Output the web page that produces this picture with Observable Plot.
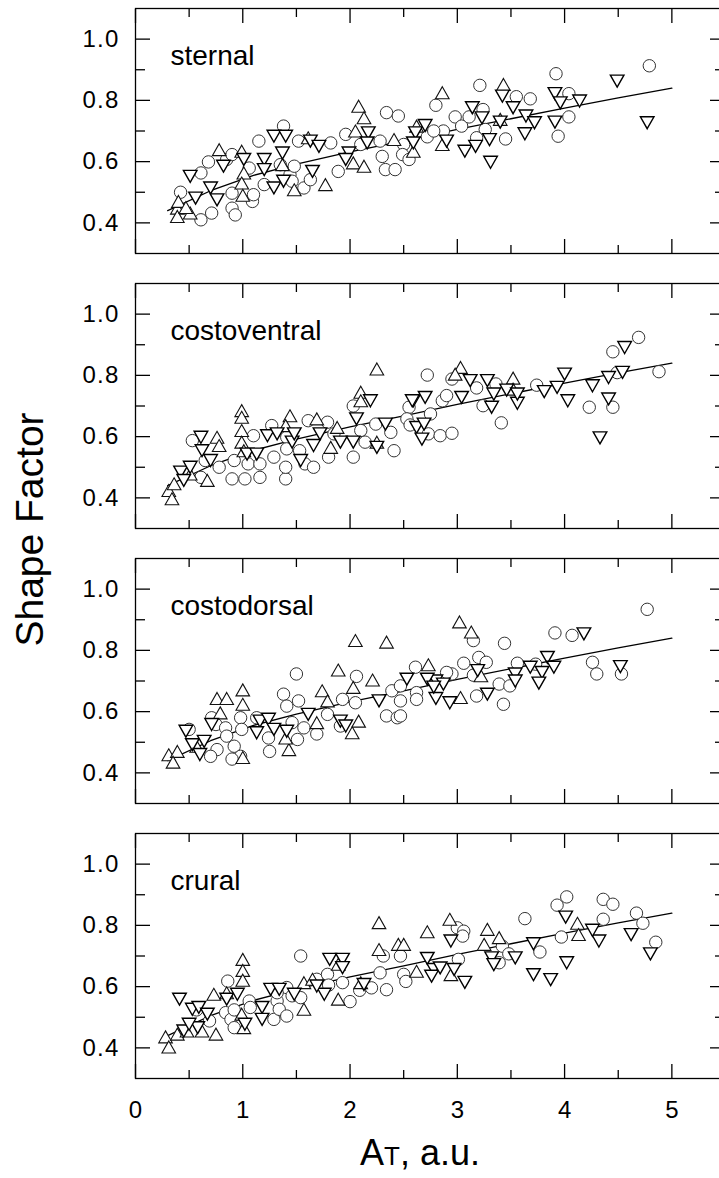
<!DOCTYPE html>
<html>
<head>
<meta charset="utf-8">
<script src="https://cdn.jsdelivr.net/npm/d3@7"></script>
<script src="https://cdn.jsdelivr.net/npm/@observablehq/plot@0.6"></script>
<style>
  body { margin: 0; background: #fff; }
  #chart { position: relative; width: 719px; height: 1178px; font-family: "Liberation Sans", Arial, sans-serif; color: #000; }
  #chart g[aria-label="panel label"] text { letter-spacing: 1.3px; }
  #chart g[aria-label="y-axis tick label"] text { letter-spacing: 1.2px; }
  #xtitle { position: absolute; left: 300px; width: 240px; top: 1135px; text-align: center;
            font-size: 36px; line-height: 36px; white-space: nowrap; }
  #xtitle .sub { font-size: 26px; }
</style>
</head>
<body>
<div id="chart"></div>
<script>
// Diaphragm regions, one panel each
const panels = ["sternal", "costoventral", "costodorsal", "crural"];

// Points as [A_T, shape factor]; three groups per panel (circle, up-triangle, down-triangle)
const sternalCircle = [[0.42,0.50],[0.61,0.41],[0.71,0.432],[0.61,0.563],[0.68,0.599],[0.85,0.607],[0.90,0.623],[0.90,0.497],[0.90,0.448],[0.93,0.426],[1.09,0.47],[1.10,0.492],[1.06,0.579],[1.15,0.667],[1.38,0.716],[1.35,0.59],[1.44,0.557],[1.46,0.536],[1.57,0.514],[1.63,0.541],[1.52,0.667],[1.82,0.661],[1.89,0.568],[1.96,0.689],[2.10,0.656],[2.28,0.667],[2.30,0.617],[2.33,0.574],[2.42,0.574],[2.34,0.76],[2.45,0.749],[2.50,0.656],[2.49,0.623],[2.55,0.607],[1.20,0.525],[1.48,0.585],[2.72,0.681],[2.80,0.784],[3.21,0.849],[2.87,0.70],[2.98,0.746],[3.04,0.716],[3.11,0.746],[3.24,0.77],[3.26,0.705],[3.18,0.678],[3.45,0.674],[3.55,0.812],[3.68,0.805],[3.92,0.887],[4.04,0.822],[4.04,0.746],[3.94,0.683],[4.79,0.913],[2.78,0.70]];
const sternalUp = [[2.08,0.781],[2.13,0.743],[0.78,0.639],[0.99,0.634],[0.39,0.448],[0.39,0.421],[0.40,0.47],[0.51,0.432],[1.01,0.563],[0.99,0.53],[1.61,0.678],[1.77,0.525],[2.05,0.70],[2.03,0.596],[2.13,0.585],[2.41,0.672],[2.62,0.716],[1.48,0.508],[1.37,0.59],[2.86,0.825],[3.43,0.852],[2.59,0.634],[2.86,0.656],[3.40,0.738],[0.47,0.45],[1.0,0.49]];
const sternalDown = [[0.51,0.552],[0.56,0.481],[0.70,0.514],[0.76,0.475],[0.82,0.585],[1.01,0.607],[1.20,0.607],[1.20,0.574],[1.29,0.514],[1.37,0.628],[1.29,0.683],[1.40,0.683],[1.63,0.667],[1.71,0.650],[1.99,0.628],[1.96,0.607],[2.17,0.694],[2.16,0.661],[1.65,0.568],[1.38,0.536],[2.61,0.694],[2.59,0.661],[2.70,0.718],[3.14,0.776],[3.23,0.743],[3.07,0.634],[3.17,0.650],[3.30,0.672],[3.31,0.598],[3.40,0.729],[3.42,0.814],[3.52,0.776],[3.64,0.749],[3.72,0.727],[3.63,0.691],[3.91,0.822],[3.96,0.792],[3.91,0.729],[4.14,0.798],[4.49,0.863],[4.77,0.727],[2.90,0.667]];

const costoventralCircle = [[0.53,0.587],[0.65,0.522],[0.61,0.467],[0.78,0.50],[0.90,0.462],[0.92,0.522],[1.02,0.462],[1.05,0.511],[1.10,0.603],[1.16,0.467],[1.16,0.511],[1.27,0.636],[1.29,0.533],[1.40,0.462],[1.40,0.50],[1.41,0.598],[1.41,0.56],[1.53,0.554],[1.58,0.511],[1.66,0.50],[1.61,0.652],[1.79,0.647],[1.85,0.609],[1.80,0.533],[2.03,0.533],[2.03,0.70],[2.10,0.62],[2.14,0.582],[2.24,0.641],[2.38,0.614],[2.41,0.554],[2.55,0.696],[2.53,0.658],[2.72,0.801],[2.56,0.638],[2.75,0.674],[2.86,0.717],[2.90,0.734],[2.73,0.609],[2.84,0.603],[2.95,0.611],[2.95,0.788],[3.18,0.759],[3.24,0.701],[3.36,0.772],[3.41,0.645],[3.74,0.768],[4.23,0.696],[4.45,0.696],[4.45,0.877],[4.49,0.809],[4.69,0.924],[4.88,0.812]];
const costoventralUp = [[2.25,0.821],[0.31,0.424],[0.34,0.397],[0.36,0.446],[0.76,0.598],[0.78,0.571],[0.99,0.685],[0.99,0.663],[0.99,0.62],[0.99,0.582],[1.01,0.554],[1.44,0.668],[1.40,0.636],[1.69,0.658],[1.88,0.630],[2.10,0.745],[2.10,0.717],[2.25,0.582],[0.67,0.457],[0.51,0.478],[1.82,0.565],[3.03,0.826],[3.52,0.791],[3.52,0.755],[2.98,0.804]];
const costoventralDown = [[0.61,0.598],[0.62,0.554],[0.42,0.484],[0.51,0.50],[0.45,0.457],[0.70,0.522],[1.04,0.543],[1.13,0.543],[1.23,0.603],[1.32,0.609],[1.46,0.582],[1.66,0.571],[1.72,0.609],[1.91,0.582],[2.03,0.582],[2.19,0.717],[2.06,0.658],[2.25,0.565],[2.33,0.641],[2.59,0.717],[2.62,0.63],[1.54,0.522],[1.48,0.609],[2.58,0.717],[2.70,0.728],[2.69,0.641],[2.67,0.592],[3.04,0.728],[3.12,0.783],[3.28,0.783],[3.32,0.696],[3.34,0.739],[3.46,0.752],[3.56,0.709],[3.56,0.739],[3.81,0.747],[3.93,0.761],[4.00,0.804],[4.03,0.717],[4.26,0.766],[4.33,0.596],[4.41,0.723],[4.41,0.793],[4.56,0.891],[4.54,0.81]];

const costodorsalCircle = [[0.50,0.542],[0.71,0.58],[0.75,0.558],[0.84,0.547],[0.85,0.52],[0.76,0.476],[0.92,0.487],[0.98,0.58],[0.99,0.542],[0.98,0.454],[1.13,0.58],[1.24,0.514],[1.25,0.47],[1.38,0.657],[1.41,0.618],[1.46,0.564],[1.52,0.635],[1.57,0.547],[1.51,0.509],[1.69,0.527],[1.50,0.723],[1.79,0.591],[1.91,0.553],[1.93,0.64],[2.05,0.629],[2.06,0.715],[2.34,0.586],[2.44,0.58],[2.39,0.668],[2.47,0.684],[2.47,0.635],[2.61,0.745],[2.62,0.662],[0.70,0.454],[0.90,0.445],[2.62,0.64],[2.47,0.586],[4.77,0.934],[3.91,0.857],[4.07,0.849],[3.44,0.823],[3.15,0.832],[3.20,0.777],[3.27,0.761],[3.06,0.758],[3.15,0.719],[2.95,0.723],[2.90,0.728],[3.56,0.758],[3.73,0.755],[3.39,0.69],[3.49,0.684],[3.43,0.624],[3.18,0.651],[4.26,0.761],[4.30,0.723],[4.53,0.723]];
const costodorsalUp = [[2.05,0.832],[2.34,0.827],[1.89,0.736],[2.21,0.703],[1.0,0.671],[1.0,0.624],[0.76,0.643],[0.85,0.643],[0.79,0.596],[1.74,0.668],[1.79,0.635],[2.03,0.679],[2.08,0.569],[2.02,0.531],[1.43,0.476],[1.40,0.514],[0.31,0.459],[0.39,0.47],[0.57,0.487],[1.69,0.564],[0.35,0.435],[1.0,0.45],[3.02,0.893],[3.13,0.86],[2.73,0.753],[3.03,0.646],[3.22,0.717]];
const costodorsalDown = [[0.47,0.536],[0.53,0.492],[0.64,0.503],[0.71,0.558],[1.16,0.569],[1.24,0.575],[1.29,0.542],[1.41,0.536],[1.61,0.591],[1.91,0.569],[2.27,0.635],[2.53,0.706],[1.96,0.553],[1.13,0.531],[0.60,0.46],[4.18,0.854],[4.52,0.747],[3.84,0.777],[3.90,0.745],[3.79,0.728],[3.76,0.693],[3.68,0.745],[3.54,0.723],[3.54,0.70],[3.28,0.657],[2.93,0.629],[2.80,0.643],[2.80,0.70],[2.72,0.706],[3.19,0.734],[2.87,0.69],[2.78,0.68]];

const cruralCircle = [[1.54,0.70],[0.86,0.618],[0.57,0.524],[0.69,0.488],[0.84,0.515],[0.89,0.493],[0.92,0.466],[0.92,0.524],[1.06,0.553],[1.07,0.532],[1.29,0.493],[1.32,0.553],[1.34,0.526],[1.41,0.597],[1.46,0.57],[1.41,0.504],[1.69,0.624],[1.79,0.64],[1.80,0.605],[1.93,0.613],[2.00,0.551],[2.09,0.588],[1.32,0.58],[1.54,0.564],[2.31,0.70],[2.47,0.70],[2.28,0.645],[2.50,0.64],[2.34,0.59],[2.20,0.596],[4.02,0.893],[3.93,0.866],[4.36,0.885],[4.45,0.869],[3.63,0.822],[4.67,0.84],[4.73,0.807],[4.85,0.745],[4.36,0.82],[3.97,0.762],[3.77,0.713],[3.00,0.792],[3.06,0.781],[3.05,0.765],[3.01,0.689],[3.42,0.732],[3.48,0.707],[3.39,0.678],[2.52,0.617]];
const cruralUp = [[1.0,0.689],[1.0,0.653],[1.0,0.621],[0.28,0.436],[0.31,0.403],[0.39,0.445],[0.48,0.455],[0.73,0.575],[0.85,0.58],[0.75,0.445],[0.62,0.455],[0.99,0.51],[1.57,0.613],[1.57,0.526],[1.89,0.559],[1.89,0.673],[1.65,0.624],[2.10,0.613],[1.01,0.466],[2.27,0.809],[2.45,0.738],[2.27,0.721],[2.62,0.65],[2.72,0.779],[2.93,0.82],[3.28,0.787],[3.25,0.738],[3.39,0.76],[4.12,0.807],[4.13,0.77],[2.94,0.639],[2.50,0.738]];
const cruralDown = [[0.41,0.559],[0.53,0.526],[0.59,0.532],[0.67,0.51],[0.58,0.466],[0.45,0.455],[0.50,0.477],[1.26,0.591],[1.18,0.532],[1.18,0.493],[1.34,0.591],[1.02,0.477],[1.81,0.689],[1.93,0.689],[1.93,0.662],[1.76,0.575],[1.69,0.602],[0.85,0.559],[0.95,0.575],[1.48,0.575],[2.13,0.607],[4.01,0.827],[4.62,0.77],[4.80,0.707],[4.32,0.749],[4.26,0.784],[4.02,0.678],[3.71,0.639],[3.87,0.623],[3.71,0.74],[3.54,0.694],[3.32,0.694],[3.34,0.672],[3.07,0.614],[2.94,0.749],[2.97,0.656],[2.72,0.692],[2.78,0.656],[2.76,0.634],[2.84,0.661]];

// Fitted curve, same in every panel
const fitX = [0.3, 0.7, 1.1, 1.5, 2.0, 2.5, 3.0, 3.5, 4.0, 4.5, 5.0];
const fitY = [0.44, 0.505, 0.555, 0.592, 0.632, 0.668, 0.705, 0.74, 0.775, 0.808, 0.84];

// Axis ticks
const xMajor = [0, 1, 2, 3, 4, 5];
const xMinor = [0.5, 1.5, 2.5, 3.5, 4.5];
const yMajor = [0.4, 0.6, 0.8, 1.0];
const yMinor = [0.5, 0.7, 0.9];

const groups = {
  circle: [sternalCircle, costoventralCircle, costodorsalCircle, cruralCircle],
  up: [sternalUp, costoventralUp, costodorsalUp, cruralUp],
  down: [sternalDown, costoventralDown, costodorsalDown, cruralDown]
};
const rowsOf = (kind) => panels.flatMap((panel, i) => groups[kind][i].map(([x, y]) => ({panel, x, y})));
const fitRows = panels.flatMap((panel) => fitX.map((x, j) => ({panel, x, y: fitY[j]})));

// Open triangles (pointing up / down) sized from the dot radius
const triangleUp = {
  draw(ctx, size) {
    const r = Math.sqrt(size / Math.PI), w = 1.08 * r, h = 0.95 * r;
    ctx.moveTo(0, -h); ctx.lineTo(w, h); ctx.lineTo(-w, h); ctx.closePath();
  }
};
const triangleDown = {
  draw(ctx, size) {
    const r = Math.sqrt(size / Math.PI), w = 1.08 * r, h = 0.95 * r;
    ctx.moveTo(0, h); ctx.lineTo(w, -h); ctx.lineTo(-w, -h); ctx.closePath();
  }
};

const sw = 1.3;
const chart = Plot.plot({
  width: 719,
  height: 1130,
  marginTop: 8,
  marginBottom: 52,
  marginLeft: 135,
  marginRight: -6,
  style: {fontFamily: '"Liberation Sans", Arial, sans-serif', color: "#000", background: "#fff"},
  x: {domain: [0, 5.5], axis: null},
  y: {domain: [0.3, 1.1], axis: null},
  fy: {domain: panels, axis: null, paddingInner: 30 / 275, paddingOuter: 0},
  marks: [
    Plot.frame({stroke: "#000", strokeWidth: sw}),
    // inward ticks on every side of every panel
    Plot.axisX({anchor: "bottom", ticks: xMajor, tickSize: -14, fill: "none", strokeWidth: sw, facetAnchor: null, label: null}),
    Plot.axisX({anchor: "bottom", ticks: xMinor, tickSize: -8, fill: "none", strokeWidth: sw, facetAnchor: null, label: null}),
    Plot.axisX({anchor: "top", ticks: xMajor, tickSize: -14, fill: "none", strokeWidth: sw, facetAnchor: null, label: null}),
    Plot.axisX({anchor: "top", ticks: xMinor, tickSize: -8, fill: "none", strokeWidth: sw, facetAnchor: null, label: null}),
    Plot.axisY({anchor: "left", ticks: yMinor, tickSize: -10, fill: "none", strokeWidth: sw, label: null}),
    Plot.axisY({anchor: "right", ticks: yMajor, tickSize: -16, fill: "none", strokeWidth: sw, label: null}),
    Plot.axisY({anchor: "right", ticks: yMinor, tickSize: -11, fill: "none", strokeWidth: sw, label: null}),
    Plot.axisY({anchor: "left", ticks: yMajor, tickSize: -15, tickPadding: 31, strokeWidth: sw,
                tickFormat: d3.format(".1f"), fontSize: 24, label: null}),
    Plot.axisX({anchor: "bottom", ticks: xMajor, tickSize: 0, tickPadding: 22, tickFormat: d3.format("d"),
                fontSize: 24, label: null}),
    // fitted curve
    Plot.line(fitRows, {x: "x", y: "y", fy: "panel", stroke: "#000", strokeWidth: 1.3}),
    // data points
    Plot.dot(rowsOf("circle"), {x: "x", y: "y", fy: "panel", r: 6.2, symbol: "circle", fill: "#fff", stroke: "#333", strokeWidth: 1}),
    Plot.dot(rowsOf("up"), {x: "x", y: "y", fy: "panel", r: 6.3, symbol: triangleUp, fill: "#fff", stroke: "#111", strokeWidth: 1.1}),
    Plot.dot(rowsOf("down"), {x: "x", y: "y", fy: "panel", r: 6.3, symbol: triangleDown, fill: "#fff", stroke: "#000", strokeWidth: 1.4}),
    // panel names
    Plot.text(panels, {fy: (d) => d, text: (d) => d, frameAnchor: "top-left", dx: 35, dy: 56,
                       lineAnchor: "bottom", textAnchor: "start", fontSize: 28, ariaLabel: "panel label"}),
    // y title
    Plot.text(["Shape Factor"], {facet: "super", frameAnchor: "left", rotate: -90, dx: -93, dy: -14,
                                 lineAnchor: "bottom", textAnchor: "middle", fontSize: 39})
  ]
});

const root = document.getElementById("chart");
root.appendChild(chart);
const title = document.createElement("div");
title.id = "xtitle";
title.innerHTML = 'A<span class="sub">T</span>, a.u.';
root.appendChild(title);
</script>
</body>
</html>
